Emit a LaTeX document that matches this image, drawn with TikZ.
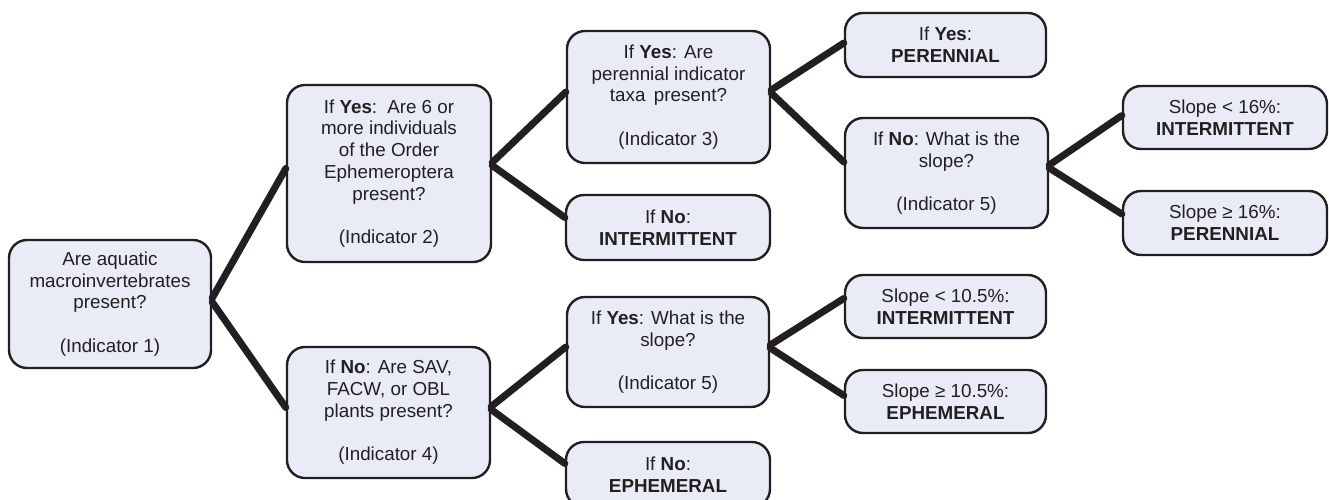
\documentclass[tikz,border=0pt]{standalone}
\usepackage{fontspec}
\setmainfont{Liberation Sans}
\usetikzlibrary{calc}
\definecolor{boxfill}{RGB}{233,235,247}
\definecolor{ink}{RGB}{35,31,32}
\begin{document}
\begin{tikzpicture}[x=0.5pt,y=-0.5pt,
  box/.style={draw=ink, fill=boxfill, line width=1.2pt, rounded corners=9pt,
    align=center, inner sep=0pt, text=ink,
    font=\fontsize{9.4}{10.85}\selectfont},
  conn/.style={draw=ink, line width=3.5pt, line cap=round}]
\useasboundingbox (0,0) rectangle (1329,499);
\node[box, minimum width=101pt, minimum height=64pt] (n1) at (110,304)
  {Are aquatic\\macroinvertebrates\\present?\\[10.85pt](Indicator 1)};
\node[box, minimum width=102pt, minimum height=88.5pt] (n2) at (389,173.5)
  {If \textbf{Yes}:\, Are 6 or\\more individuals\\of the Order\\Ephemeroptera\\present?\\[10.85pt](Indicator 2)};
\node[box, minimum width=101.5pt, minimum height=65.5pt] (n4) at (388.5,412.5)
  {If \textbf{No}: Are SAV,\\FACW, or OBL\\plants present?\\[10.85pt](Indicator 4)};
\node[box, minimum width=101.5pt, minimum height=66pt] (n3) at (668.5,97)
  {If \textbf{Yes}: Are\\perennial indicator\\taxa\, present?\\[10.85pt](Indicator 3)};
\node[box, minimum width=102pt, minimum height=32.5pt] (n3no) at (668,227.5)
  {If \textbf{No}:\\\textbf{INTERMITTENT}};
\node[box, minimum width=101pt, minimum height=55pt] (n5) at (668,352)
  {If \textbf{Yes}: What is the\\slope?\\[10.85pt](Indicator 5)};
\node[box, minimum width=102pt, minimum height=32.5pt] (n4no) at (668,474.5)
  {If \textbf{No}:\\\textbf{EPHEMERAL}};
\node[box, minimum width=100.5pt, minimum height=32pt] (n6) at (945.5,45)
  {If \textbf{Yes}:\\\textbf{PERENNIAL}};
\node[box, minimum width=101.5pt, minimum height=55pt] (n7) at (946.5,173)
  {If \textbf{No}: What is the\\slope?\\[10.85pt](Indicator 5)};
\node[box, minimum width=100.5pt, minimum height=31.5pt] (n8) at (945.5,306.5)
  {Slope < 10.5\%:\\\textbf{INTERMITTENT}};
\node[box, minimum width=100.5pt, minimum height=31.5pt] (n9) at (945.5,401.5)
  {Slope ≥ 10.5\%:\\\textbf{EPHEMERAL}};
\node[box, minimum width=102pt, minimum height=31.5pt] (n10) at (1225,117.5)
  {Slope < 16\%:\\\textbf{INTERMITTENT}};
\node[box, minimum width=102pt, minimum height=32pt] (n11) at (1225,223)
  {Slope ≥ 16\%:\\\textbf{PERENNIAL}};
% connectors
\draw[conn] ($(n1.east)+(0,-6)$) -- ($(n2.west)+(0,-5)$);
\draw[conn] ($(n1.east)+(0,-2)$) -- ($(n4.west)+(0,-5)$);
\draw[conn] ($(n2.east)+(0,-11)$) -- ($(n3.west)+(0,-5)$);
\draw[conn] ($(n2.east)+(0,-8)$) -- ($(n3no.west)+(0,-10)$);
\draw[conn] ($(n3.east)+(0,-7)$) -- ($(n6.west)+(0,-2)$);
\draw[conn] ($(n3.east)+(0,-4)$) -- ($(n7.west)+(0,-11)$);
\draw[conn] ($(n4.east)+(0,-6)$) -- ($(n5.west)+(0,-5)$);
\draw[conn] ($(n4.east)+(0,-3)$) -- ($(n4no.west)+(0,-11)$);
\draw[conn] ($(n5.east)+(0,-7)$) -- ($(n8.west)+(0,-8)$);
\draw[conn] ($(n5.east)+(0,-4)$) -- ($(n9.west)+(0,-6)$);
\draw[conn] ($(n7.east)+(0,-8)$) -- ($(n10.west)+(0,-2)$);
\draw[conn] ($(n7.east)+(0,-5)$) -- ($(n11.west)+(0,-9)$);
\end{tikzpicture}
\end{document}
